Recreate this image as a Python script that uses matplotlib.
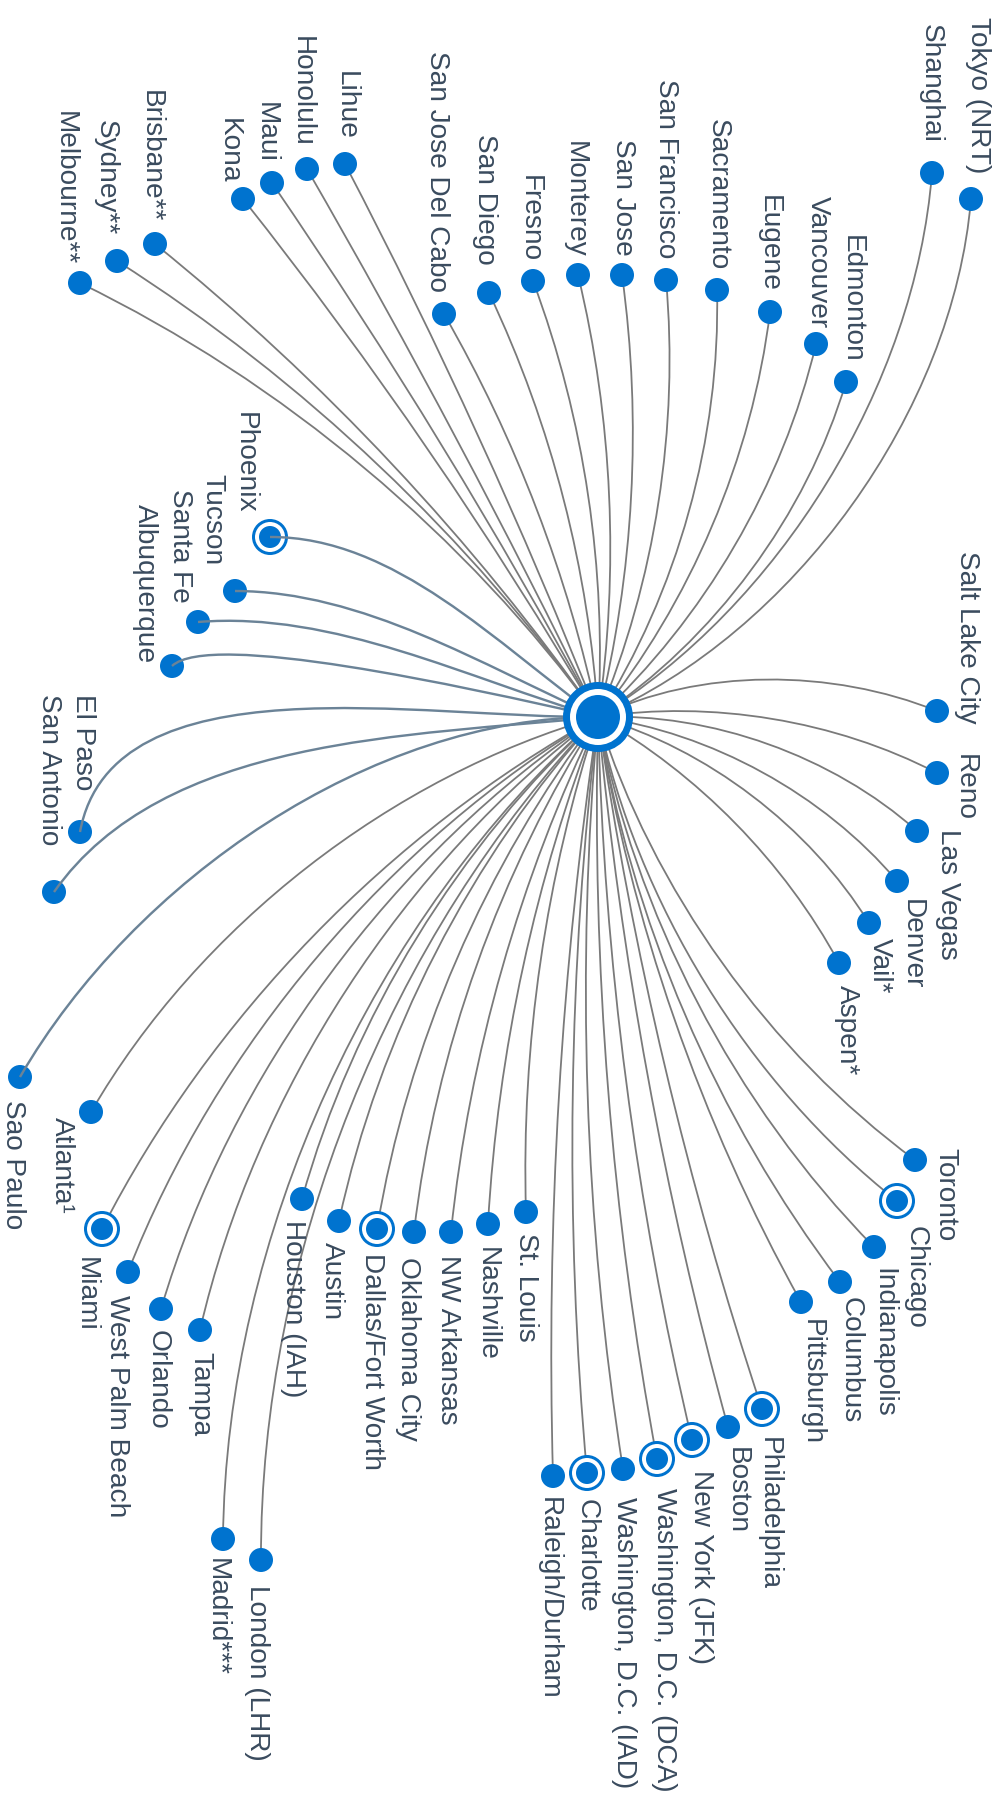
import numpy as np
import matplotlib.pyplot as plt
from matplotlib.patches import Circle, PathPatch
from matplotlib.path import Path

plt.rcParams['font.family'] = ['Liberation Sans', 'DejaVu Sans']

# hub position (plot units = pixels)
hub_x, hub_y = 598, 717

# destinations, in clockwise order starting at the top right
cities = ['Tokyo (NRT)', 'Shanghai', 'Edmonton', 'Vancouver', 'Eugene', 'Sacramento',
          'San Francisco', 'San Jose', 'Monterey', 'Fresno', 'San Diego', 'San Jose Del Cabo',
          'Lihue', 'Honolulu', 'Maui', 'Kona', 'Brisbane**', 'Sydney**', 'Melbourne**',
          'Phoenix', 'Tucson', 'Santa Fe', 'Albuquerque', 'El Paso', 'San Antonio',
          'Sao Paulo', 'Atlanta\u00b9', 'Miami', 'West Palm Beach', 'Orlando', 'Tampa',
          'Madrid***', 'London (LHR)', 'Houston (IAH)', 'Austin', 'Dallas/Fort Worth',
          'Oklahoma City', 'NW Arkansas', 'Nashville', 'St. Louis', 'Raleigh/Durham',
          'Charlotte', 'Washington, D.C. (IAD)', 'Washington, D.C. (DCA)', 'New York (JFK)',
          'Boston', 'Philadelphia', 'Pittsburgh', 'Columbus', 'Indianapolis', 'Chicago',
          'Toronto', 'Aspen*', 'Vail*', 'Denver', 'Las Vegas', 'Reno', 'Salt Lake City']
node_x = [971, 932, 846, 816, 770, 717, 666, 622, 578, 533, 489, 444,
          345, 307, 272, 243, 155, 117, 80,
          270, 235, 198, 172, 80, 54,
          20, 91, 102, 128, 161, 200,
          223, 261, 302, 339, 377, 414, 451, 488, 526, 553,
          587, 623, 657, 692, 728, 762, 801, 840, 874, 897,
          915, 839, 869, 897, 917, 937, 937]
node_y = [199, 173, 382, 344, 312, 290, 280, 275, 275, 281, 293, 314,
          164, 169, 183, 199, 244, 261, 283,
          537, 591, 622, 666, 832, 892,
          1077, 1112, 1229, 1272, 1309, 1330,
          1539, 1560, 1199, 1221, 1229, 1232, 1232, 1224, 1212, 1476,
          1473, 1469, 1459, 1440, 1427, 1409, 1302, 1282, 1247, 1201,
          1160, 963, 923, 881, 831, 773, 711]

# cities drawn as secondary hubs (ringed dot)
ring_cities = ['Phoenix', 'Miami', 'Dallas/Fort Worth', 'Charlotte', 'Washington, D.C. (DCA)',
               'New York (JFK)', 'Philadelphia', 'Chicago']
# routes drawn in the slate blue colour
blue_routes = ['Phoenix', 'Tucson', 'Santa Fe', 'Albuquerque', 'El Paso', 'San Antonio', 'Sao Paulo']

# curve bend at the hub end and at the city end, degrees
bend_start = [31, 27, 20, 17, 16, 17, 14, 11, 11, 12, 11, 9, 3, 2, 3, 4, 8, 11, 14,
              7, 5, 3, 6, 12, 12, 32, 22, 17, 19, 20, 20, 24, 22, 16, 15, 14, 13, 10, 9, 10, 5,
              6, 7, 6, 6, 5, 5, 10, 14, 17, 20, 18, -16, -21, -21, -22, -18, -25]
bend_end = [31, 27, 20, 17, 16, 17, 14, 11, 11, 12, 11, 9, 3, 2, 3, 4, 8, 11, 14,
            29, 19, 18, 50, 67, 37, 28, 22, 17, 19, 20, 20, 24, 22, 16, 15, 14, 13, 10, 9, 10, 5,
            6, 7, 6, 6, 5, 5, 10, 14, 17, 20, 18, -16, -21, -21, -22, -18, -23]
# handle length at the city end, as a share of the straight distance
tail = [1 / 3] * len(cities)
tail[cities.index('Albuquerque')] = 0.12

# label offsets from the dot; 'a' = text ends at the anchor, 'b' = text starts there
label_dx = [7, -1, 6, 2, -1, 1, 0, 1, -3, -3, -4, -7, 1, -5, -6, -14, -4, -11, -15,
            -25, -23, -18, -27, 3, -5, -7, -29, -16, -11, -3, 0, -6, -4, -9, -7, -5, -6, -3, -1, 0, -4,
            0, 1, 7, 9, 9, 7, 11, 11, 9, 19, 30, 8, 11, 15, 31, 28, 30]
label_dy = [-26, -30, -19, -16, -20, -20, -22, -19, -17, -19, -28, -22, -24, -22, -20, -16, -22, -26, -18,
            -24, -26, -19, -3, -42, -47, 23, 5, 28, 23, 21, 22, 19, 25, 21, 21, 24, 25, 23, 23, 21, 21,
            26, 28, 29, 30, 20, 28, 17, 15, 21, 25, -12, 22, 15, 18, -2, -19, 13]
label_side = ['a'] * 25 + ['b'] * 32 + ['a']

blue = '#0073cf'
text_color = '#3a4b5e'


def route_path(x0, y0, x1, y1, ds, de, t_end):
    dx, dy = x1 - x0, y1 - y0
    length = np.hypot(dx, dy)
    ang = np.arctan2(dy, dx)
    a0 = ang + np.radians(ds)
    a1 = ang - np.radians(de)
    h0 = length / 3
    h1 = length * t_end
    c1 = (x0 + h0 * np.cos(a0), y0 + h0 * np.sin(a0))
    c2 = (x1 - h1 * np.cos(a1), y1 - h1 * np.sin(a1))
    verts = [(x0, y0), c1, c2, (x1, y1)]
    codes = [Path.MOVETO, Path.CURVE4, Path.CURVE4, Path.CURVE4]
    return Path(verts, codes)


fig = plt.figure(figsize=(9.98, 18.2), dpi=100)
ax = fig.add_axes([0, 0, 1, 1])
ax.set_xlim(0, 998)
ax.set_ylim(1820, 0)
ax.axis('off')

px = 72 / 100  # points per pixel

for i, city in enumerate(cities):
    path = route_path(hub_x, hub_y, node_x[i], node_y[i], bend_start[i], bend_end[i], tail[i])
    if city in blue_routes:
        patch = PathPatch(path, facecolor='none', edgecolor='#6b8397', lw=2.4 * px, zorder=4)
    else:
        patch = PathPatch(path, facecolor='none', edgecolor='#7a7a7a', lw=1.8 * px, zorder=1)
    ax.add_patch(patch)

for i, city in enumerate(cities):
    x, y = node_x[i], node_y[i]
    if city in ring_cities:
        ax.add_patch(Circle((x, y), 16.5, facecolor='white', edgecolor=blue, lw=3 * px, zorder=3))
        ax.add_patch(Circle((x, y), 11, facecolor=blue, edgecolor='none', zorder=3))
    else:
        ax.add_patch(Circle((x, y), 12, facecolor=blue, edgecolor='none', zorder=3))

    ha = 'right' if label_side[i] == 'a' else 'left'
    ax.text(x + label_dx[i], y + label_dy[i], city, rotation=270, rotation_mode='anchor',
            ha=ha, va='center', fontsize=20.2, color=text_color, zorder=5)

# main hub
ax.add_patch(Circle((hub_x, hub_y), 35, facecolor=blue, edgecolor='none', zorder=6))
ax.add_patch(Circle((hub_x, hub_y), 28, facecolor='white', edgecolor='none', zorder=6))
ax.add_patch(Circle((hub_x, hub_y), 22, facecolor=blue, edgecolor='none', zorder=6))

fig.savefig('out.png', dpi=100, facecolor='white')
